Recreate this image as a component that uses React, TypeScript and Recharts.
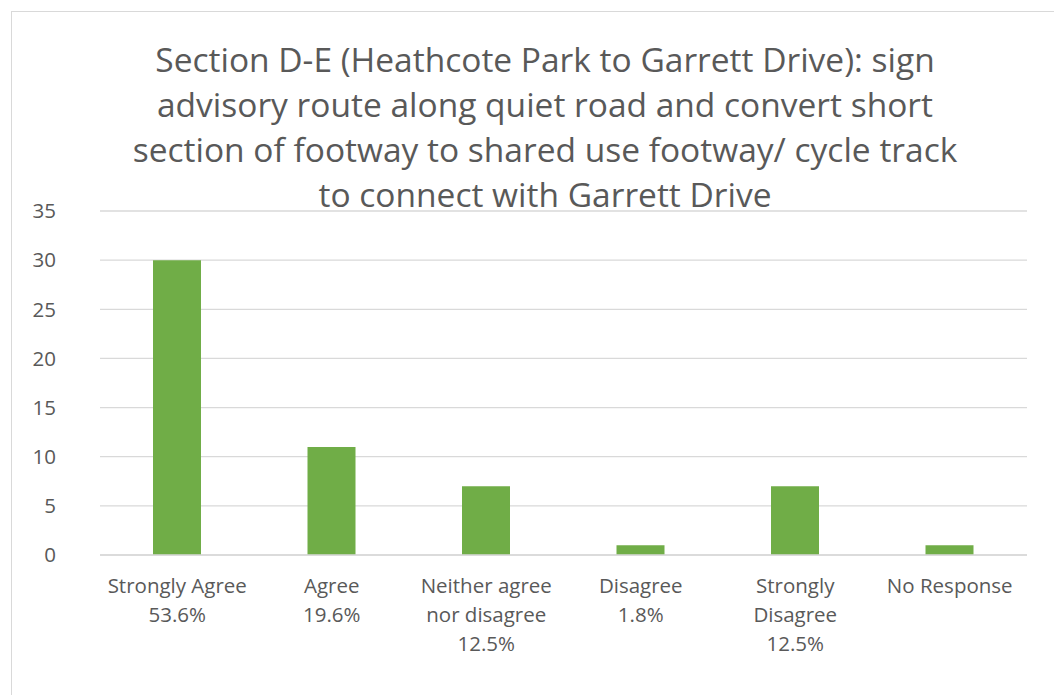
import { BarChart, Bar, XAxis, YAxis, CartesianGrid } from 'recharts';

const categories = [
  'Strongly Agree\n53.6%',
  'Agree\n19.6%',
  'Neither agree\nnor disagree\n12.5%',
  'Disagree\n1.8%',
  'Strongly\nDisagree\n12.5%',
  'No Response',
];
const responses = [30, 11, 7, 1, 7, 1];
const yTicks = [0, 5, 10, 15, 20, 25, 30, 35];
const titleLines = [
  'Section D-E (Heathcote Park to Garrett Drive): sign',
  'advisory route along quiet road and convert short',
  'section of footway to shared use footway/ cycle track',
  'to connect with Garrett Drive',
];

const chartData = categories.map((name, i) => ({ name, value: responses[i] }));

const FONT = '"Open Sans", "Noto Sans", sans-serif';
const TEXT = '#595959';

function CategoryTick({ x, y, payload }: any) {
  const lines = String(payload.value).split('\n');
  return (
    <text x={x} y={y} textAnchor="middle" fill={TEXT} fontSize={20.5} fontFamily={FONT}>
      {lines.map((line, i) => (
        <tspan key={i} x={x} dy={i === 0 ? 30 : 29}>
          {line}
        </tspan>
      ))}
    </text>
  );
}

export default function App() {
  return (
    <div
      style={{
        position: 'relative',
        marginLeft: 3,
        marginTop: 3,
        width: 1046,
        height: 700,
        border: '1px solid #D9D9D9',
        background: '#fff',
        fontFamily: FONT,
      }}
    >
      <div
        style={{
          position: 'absolute',
          left: 0,
          width: 1066,
          top: 25,
          textAlign: 'center',
          fontSize: 33.5,
          lineHeight: '45px',
          color: TEXT,
          whiteSpace: 'nowrap',
        }}
      >
        {titleLines.map((l, i) => (
          <div key={i}>{l}</div>
        ))}
      </div>
      <BarChart
        width={1046}
        height={700}
        data={chartData}
        margin={{ top: 199, right: 31, left: 0, bottom: 127 }}
        barSize={48}
      >
        <CartesianGrid vertical={false} stroke="#D9D9D9" strokeWidth={1.3} />
        <XAxis
          dataKey="name"
          interval={0}
          height={30}
          tickLine={false}
          axisLine={{ stroke: '#D9D9D9', strokeWidth: 1.3 }}
          tick={<CategoryTick />}
        />
        <YAxis
          domain={[0, 35]}
          ticks={yTicks}
          width={88}
          tickLine={false}
          axisLine={false}
          tickSize={0}
          tickMargin={44}
          tick={{ fill: TEXT, fontSize: 20.5, fontFamily: FONT }}
        />
        <Bar dataKey="value" fill="#70AD47" isAnimationActive={false} />
      </BarChart>
    </div>
  );
}
